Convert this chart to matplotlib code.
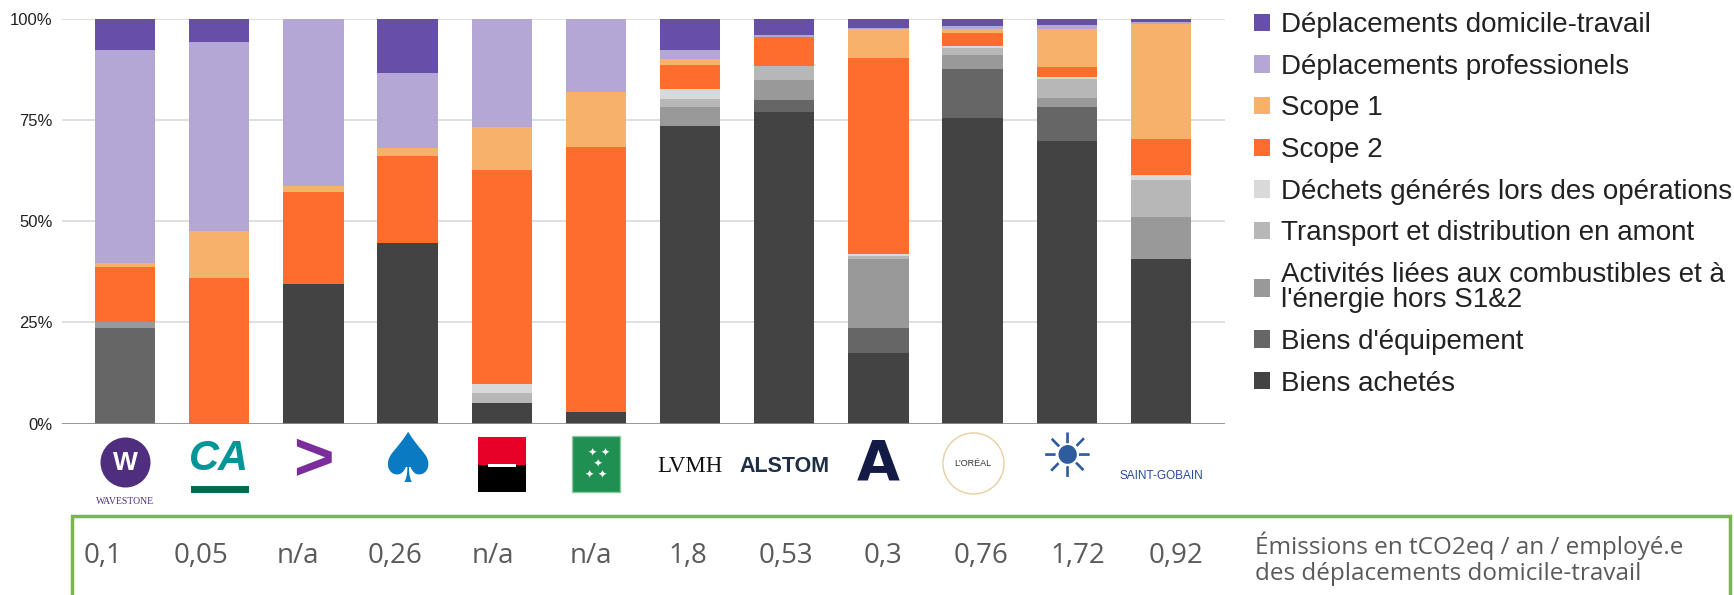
import numpy as np
import matplotlib
matplotlib.use("Agg")
import matplotlib.pyplot as plt
from matplotlib.patches import Patch, Rectangle

plt.rcParams['font.family'] = ['Liberation Sans', 'DejaVu Sans']

# ---------------- data ----------------
companies = ["Wavestone", "Crédit Agricole", "Accenture", "Capgemini", "Société Générale",
             "BNP Paribas", "LVMH", "Alstom", "Accor", "L'Oréal", "Danone", "Saint-Gobain"]

series_names = ["Biens achetés", "Biens d'équipement",
                "Activités liées aux combustibles et à\nl'énergie hors S1&2",
                "Transport et distribution en amont", "Déchets générés lors des opérations",
                "Scope 2", "Scope 1", "Déplacements professionels", "Déplacements domicile-travail"]
series_colors = ["#434343", "#666666", "#999999", "#b7b7b7", "#d9d9d9",
                 "#ff6d2e", "#f6b26b", "#b4a7d6", "#674ea7"]

biens_achetes    = [0.0, 0.0, 34.5, 44.7, 5.2, 2.8, 73.6, 77.0, 17.5, 75.6, 69.9, 40.6]
biens_equipement = [23.6, 0.0, 0.0, 0.0, 0.0, 0.0, 0.0, 2.9, 6.1, 12.0, 8.4, 0.0]
activites_comb   = [1.4, 0.0, 0.0, 0.0, 0.0, 0.0, 4.6, 4.9, 17.0, 3.5, 2.2, 10.5]
transport_amont  = [0.0, 0.0, 0.0, 0.0, 2.4, 0.0, 1.9, 3.6, 0.7, 1.8, 4.6, 9.0]
dechets          = [0.0, 0.0, 0.0, 0.0, 2.1, 0.0, 2.5, 0.0, 0.7, 0.3, 0.4, 1.3]
scope2           = [13.7, 35.9, 22.8, 21.5, 52.9, 65.5, 6.1, 7.1, 48.3, 3.3, 2.5, 8.8]
scope1           = [1.0, 11.7, 1.4, 1.8, 10.7, 13.6, 1.3, 0.0, 7.2, 1.0, 9.5, 28.4]
dep_pro          = [52.7, 46.6, 41.3, 18.7, 26.7, 18.1, 2.4, 0.6, 0.3, 0.8, 1.0, 0.7]
dep_domicile     = [7.6, 5.8, 0.0, 13.3, 0.0, 0.0, 7.6, 3.9, 2.2, 1.7, 1.5, 0.7]

commute_values = ["0,1", "0,05", "n/a", "0,26", "n/a", "n/a", "1,8", "0,53", "0,3", "0,76", "1,72", "0,92"]
commute_caption = "Émissions en tCO2eq / an / employé.e\ndes déplacements domicile-travail"
ytick_values = [0, 25, 50, 75, 100]
ytick_labels = ["0%", "25%", "50%", "75%", "100%"]

series_values = [biens_achetes, biens_equipement, activites_comb, transport_amont, dechets,
                 scope2, scope1, dep_pro, dep_domicile]

# ---------------- figure ----------------
W, H = 1734, 595
fig = plt.figure(figsize=(W / 100, H / 100), dpi=100)
ax_left, ax_right, ax_top, ax_bottom = 62, 1225, 18.8, 423.6
ax = fig.add_axes([ax_left / W, (H - ax_bottom) / H, (ax_right - ax_left) / W, (ax_bottom - ax_top) / H])

x = np.arange(len(companies))
bottom = np.zeros(len(companies))
for vals, col, name in zip(series_values, series_colors, series_names):
    v = np.array(vals)
    ax.bar(x, v, bottom=bottom, width=0.64, color=col, label=name, zorder=2, linewidth=0)
    bottom += v

ax.set_xlim(-0.67, len(companies) - 1 + 0.68)
ax.set_ylim(0, 100)
for s in ax.spines.values():
    s.set_visible(False)
for yv in ytick_values[1:]:
    ax.axhline(yv, color="#d9d9d9", lw=1.2, zorder=0)
ax.axhline(0, color="#8c8c8c", lw=2, zorder=3)
ax.set_yticks(ytick_values)
ax.set_yticklabels(ytick_labels, fontsize=12, color="#222222")
ax.tick_params(axis="y", length=0, pad=7)
ax.set_xticks([])

# ---------------- logos (approximated with text / shapes) ----------------
trans = ax.get_xaxis_transform()
def ya(py):
    return (ax_bottom - py) / (ax_bottom - ax_top)

kw = dict(transform=trans, ha="center", va="center", clip_on=False)
# Wavestone
ax.plot([0], [ya(462)], marker="o", ms=35, color="#4f2d7f", transform=trans, clip_on=False)
ax.text(0, ya(463), "W", color="white", fontsize=19, fontweight="bold", **kw)
ax.text(0, ya(501), "WAVESTONE", color="#4f2d7f", fontsize=7, family="Liberation Serif", **kw)
# Crédit Agricole
ax.text(1, ya(459), "CA", color="#009597", fontsize=30, fontweight="bold", style="italic", **kw)
ax.plot([1 - 0.27, 1 + 0.27], [ya(489), ya(489)], color="#006a4e", lw=5, transform=trans, clip_on=False)
# Accenture
ax.text(2, ya(462), ">", color="#7b2d9b", fontsize=50, fontweight="bold", **kw)
# Capgemini
ax.text(3, ya(462), "♠", color="#0a7bc2", fontsize=50, family="DejaVu Sans", **kw)
# Société Générale
ax.add_patch(Rectangle((4 - 0.255, ya(465)), 0.51, ya(437) - ya(465), facecolor="#e60028",
                       transform=trans, clip_on=False))
ax.add_patch(Rectangle((4 - 0.255, ya(492)), 0.51, ya(465) - ya(492), facecolor="#000000",
                       transform=trans, clip_on=False))
ax.add_patch(Rectangle((4 - 0.15, ya(467)), 0.30, ya(464) - ya(467), facecolor="white",
                       transform=trans, clip_on=False))
# BNP Paribas
ax.add_patch(Rectangle((5 - 0.255, ya(492)), 0.51, ya(436) - ya(492), facecolor="#1f8f52",
                       edgecolor="#8cc8a0", lw=1, transform=trans, clip_on=False))
ax.text(5, ya(464), "  ✦ ✦\n ✦\n✦ ✦", color="white", fontsize=8, family="DejaVu Sans",
        linespacing=1.1, **kw)
# LVMH
ax.text(6, ya(467), "LVMH", color="#111111", fontsize=16.5, family="Liberation Serif", **kw)
# Alstom
ax.text(7, ya(467), "ALSTOM", color="#1e2f45", fontsize=15.5, fontweight="bold", **kw)
# Accor
ax.text(8, ya(464), "A", color="#141a46", fontsize=40, fontweight="bold", family="DejaVu Sans", **kw)
# L'Oréal
ax.plot([9], [ya(463)], marker="o", ms=44, mfc="white", mec="#e8cfa0", mew=1,
        transform=trans, clip_on=False)
ax.text(9, ya(464), "L'ORÉAL", color="#333333", fontsize=6.5, **kw)
# Danone
ax.text(10, ya(461), "☀", color="#2e5c9e", fontsize=44, family="DejaVu Sans", **kw)
# Saint-Gobain
ax.text(11, ya(476), "SAINT-GOBAIN", color="#2b4a9a", fontsize=8.5, **kw)

# ---------------- legend ----------------
handles = [Patch(facecolor=c, edgecolor="none", label=n) for n, c in zip(series_names, series_colors)][::-1]
leg = fig.legend(handles=handles, loc="upper left", bbox_to_anchor=(1253.5 / W, (H - 12) / H),
                 frameon=False, fontsize=20, handlelength=0.58, handleheight=0.58,
                 handletextpad=0.4, labelspacing=0.565, borderpad=0, borderaxespad=0)
for t in leg.get_texts():
    t.set_linespacing(0.95)
    t.set_color("#222222")

# ---------------- commute emissions box ----------------
fig.add_artist(Rectangle((72 / W, -0.1), (1730 - 72) / W, (H - 516) / H + 0.1,
                         transform=fig.transFigure, fill=False, edgecolor="#7ab648", lw=2.5))
val_x = np.linspace(103, 1175.6, len(commute_values))
for px, val in zip(val_x, commute_values):
    fig.text(px / W, (H - 556) / H, val, ha="center", va="center", fontsize=20,
             color="#5a5a5a", family="Open Sans")
fig.text(1255 / W, (H - 559) / H, commute_caption, ha="left", va="center", fontsize=17.5,
         color="#5a5a5a", family="Open Sans", linespacing=1.1)

fig.savefig("out.png", dpi=100)
